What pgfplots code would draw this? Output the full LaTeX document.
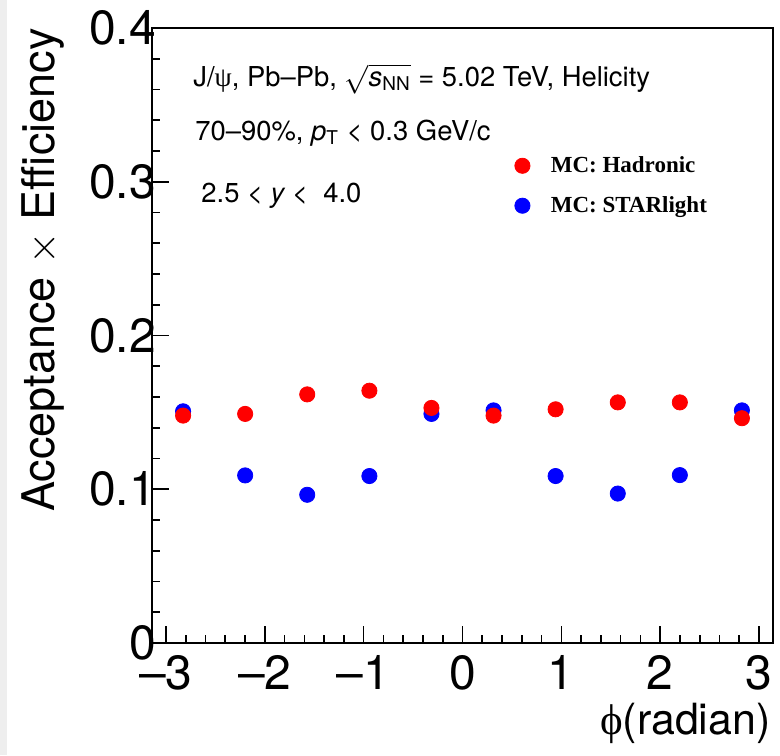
\documentclass[border=0pt]{standalone}
\usepackage{pgfplots}
\pgfplotsset{compat=1.18}
\usepackage{fontspec}
\setmainfont{TeX Gyre Heros}
\newfontfamily\seriffont{Liberation Serif}
\definecolor{rootred}{RGB}{255,0,0}
\definecolor{rootblue}{RGB}{0,0,255}

\pgfplotstableread{
x      y
-2.827 0.1507
-2.199 0.1090
-1.571 0.0964
-0.942 0.1086
-0.314 0.1490
0.314  0.1513
0.942  0.1086
1.571  0.0972
2.199  0.1092
2.827  0.1513
}\starlight

\pgfplotstableread{
x      y
-2.827 0.1479
-2.199 0.1490
-1.571 0.1617
-0.942 0.1641
-0.314 0.1529
0.314  0.1479
0.942  0.1520
1.571  0.1565
2.199  0.1565
2.827  0.1462
}\hadronic

\begin{document}
\begin{tikzpicture}
\useasboundingbox (-76pt,-56pt) rectangle (314pt,321.5pt);
\fill[gray!13] (-76pt,-56pt) rectangle (-72.5pt,321.5pt);
\begin{axis}[
  name=ax, at={(0,0)}, anchor=south west,
  scale only axis, width=310.5pt, height=307.5pt,
  xmin=-3.1416, xmax=3.1416, ymin=0, ymax=0.4,
  axis line style={line width=0.8pt},
  tick style={black, line width=0.8pt},
  tick align=inside, tick pos=left,
  major tick length=8.5pt, minor tick length=4.25pt,
  xtick={-3,-2,-1,0,1,2,3},
  xticklabels={–3,–2,–1,0,1,2,3},
  minor x tick num=4,
  ytick={0,0.1,0.2,0.3,0.4},
  yticklabels={0,0.1,0.2,0.3,0.4},
  minor y tick num=4,
  ticklabel style={font=\fontsize{24}{28}\selectfont},
  xticklabel style={yshift=-2.5pt},
  yticklabel style={xshift=5.5pt},
  legend image code/.code={\draw[#1] plot coordinates {(0pt,0pt)}; \path (-4pt,0pt) (12pt,0pt);},
  reverse legend,
  legend cell align=left,
  legend style={draw=none, fill=none, inner sep=0pt, outer sep=0pt,
    at={(rel axis cs:0.583,0.7435)}, anchor=west, row sep=6.5pt,
    font=\seriffont\bfseries\fontsize{11.5}{14}\selectfont},
]
\addplot[only marks, mark=*, mark size=3.8pt, color=rootblue, fill=rootblue] table[x=x,y=y] {\starlight};
\addlegendentry{MC: STARlight}
\addplot[only marks, mark=*, mark size=3.8pt, color=rootred, fill=rootred] table[x=x,y=y] {\hadronic};
\addlegendentry{MC: Hadronic}
\end{axis}
\node[anchor=base west, font=\fontsize{13.7}{16}\selectfont, inner sep=0pt] at ([xshift=20.5pt, yshift=-29pt]ax.north west)
  {J/{\seriffont ψ}, Pb–Pb, $\sqrt{\mbox{\itshape s}_{\mbox{\fontsize{9.5}{10}\selectfont NN}}}$ = 5.02 TeV, Helicity};
\node[anchor=base west, font=\fontsize{13.7}{16}\selectfont, inner sep=0pt] at ([xshift=21.5pt, yshift=-56pt]ax.north west)
  {70–90\%, {\itshape p}$_{\mbox{\fontsize{9.5}{10}\selectfont T}}$ < 0.3 GeV/c};
\node[anchor=base west, font=\fontsize{13.7}{16}\selectfont, inner sep=0pt] at ([xshift=24.5pt, yshift=-87pt]ax.north west)
  {2.5 < {\itshape y} <\ \ 4.0};
\node[anchor=base east, font=\fontsize{21.5}{26}\selectfont, inner sep=0pt] at ([xshift=-1pt, yshift=-45.5pt]ax.south east)
  {{\seriffont ϕ}(radian)};
\node[anchor=base east, rotate=90, font=\fontsize{22.5}{27}\selectfont, inner sep=0pt] at ([xshift=-48.5pt]ax.north west)
  {Acceptance $\times$ Efficiency};
\end{tikzpicture}
\end{document}
